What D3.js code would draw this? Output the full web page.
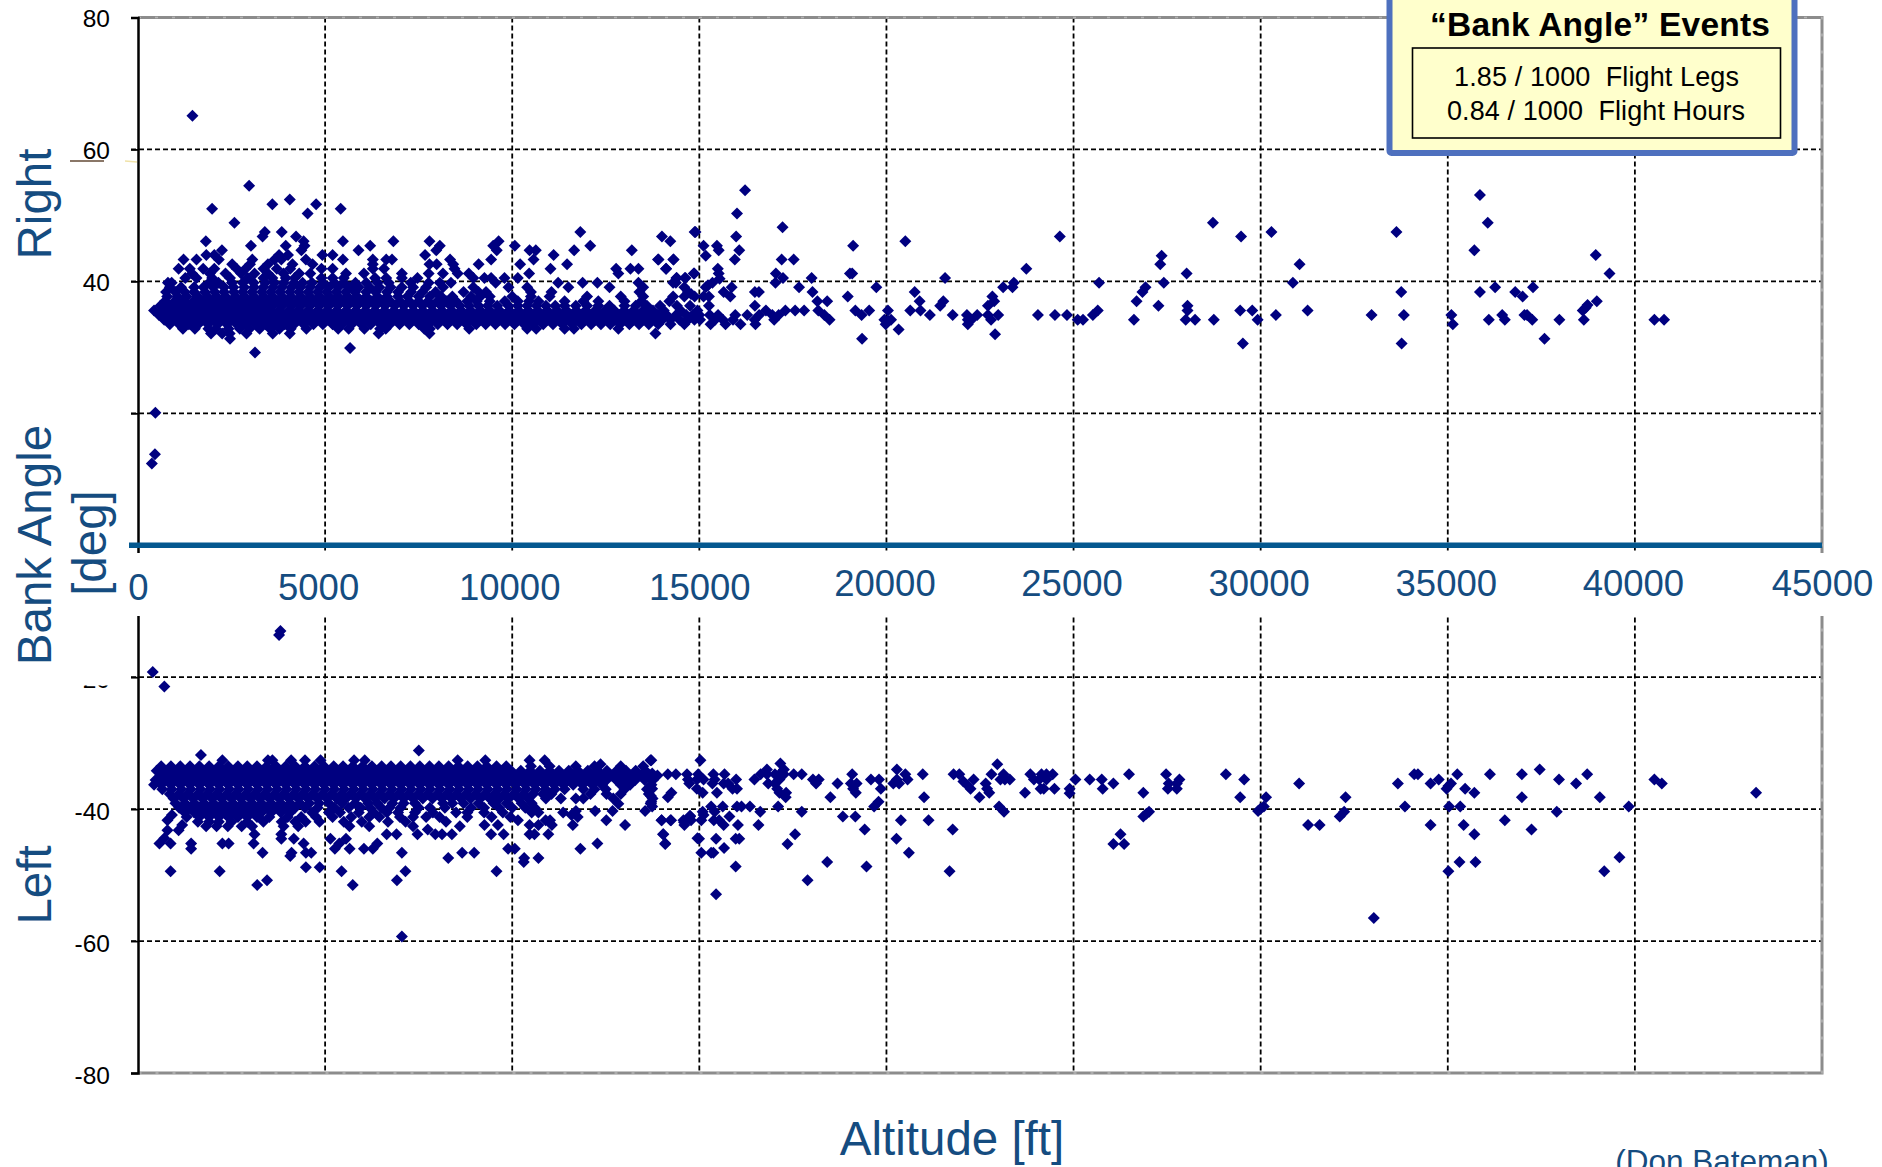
<!DOCTYPE html>
<html>
<head>
<meta charset="utf-8">
<title>Bank Angle Events</title>
<script src="https://cdnjs.cloudflare.com/ajax/libs/d3/7.8.5/d3.min.js"></script>
<style>
html, body { margin: 0; padding: 0; background: #fff; overflow: hidden; }
svg { display: block; }
text { font-family: "Liberation Sans", Arial, sans-serif; white-space: pre; }
</style>
</head>
<body>
<svg id="chart"></svg>
<script>
// Axis values
var altitudeTicks = [0, 5000, 10000, 15000, 20000, 25000, 30000, 35000, 40000, 45000];
var angleTicks = [80, 60, 40, 20, -20, -40, -60, -80];
var angleLabels = [80, 60, 40, -20, -40, -60, -80];

// Bank angle is recorded in steps, so the dense bands are kept per angle level: [angle, altitudes]
var rightLevels = [39.8, 39.1, 38.4, 37.7, 37.0, 36.3, 35.6, 34.9, 34.2, 33.5, 32.8, 32.1];
var rightLevelAltitudes = [
  [800, 900, 1900, 2150, 2510, 2800, 3090, 3400, 3650, 3900, 4170, 4400, 4650, 4940, 5250, 5500, 5810, 6100, 6400, 6700, 7289, 7767, 8065, 8363, 9556, 11226, 11882, 12276, 13373, 14300],
  [850, 1150, 1500, 1750, 2010, 2300, 2550, 2840, 3100, 3350, 3610, 3850, 4100, 4340, 4600, 4860, 5100, 5350, 5650, 5900, 6190, 6450, 6750, 7050, 7350, 7700, 8150, 8960, 9900, 10400, 11500, 12600, 13500, 14600],
  [750, 1000, 1250, 1500, 1790, 2050, 2300, 2560, 2800, 3050, 3310, 3550, 3800, 4060, 4300, 4550, 4800, 5040, 5300, 5550, 5800, 6100, 6350, 6650, 6950, 7300, 7600, 7950, 8700, 9100, 9300, 10500, 11050, 13400],
  [780, 1050, 1300, 1600, 1850, 2100, 2340, 2600, 2850, 3100, 3360, 3600, 3850, 4090, 4350, 4600, 4850, 5110, 5350, 5600, 5850, 6100, 6400, 6650, 6950, 7200, 7500, 7800, 8100, 8400, 8900, 9150, 9400, 10000, 10500, 11000, 12000, 12900, 13500, 14300, 14600],
  [720, 980, 1220, 1480, 1750, 2000, 2250, 2500, 2760, 3000, 3250, 3490, 3750, 4000, 4250, 4510, 4750, 5000, 5250, 5500, 5760, 6000, 6250, 6500, 6740, 7000, 7250, 7500, 7750, 8000, 8250, 8500, 8800, 9050, 9400, 9800, 10150, 10450, 10700, 11400, 11900, 12300, 13000, 13450, 14200],
  [600, 850, 1100, 1350, 1610, 1850, 2100, 2350, 2600, 2860, 3100, 3350, 3600, 3850, 4110, 4350, 4600, 4850, 5100, 5340, 5600, 5850, 6100, 6350, 6600, 6860, 7100, 7350, 7600, 7850, 8100, 8350, 8600, 8850, 9100, 9350, 9600, 9900, 10150, 10400, 10650, 10900, 11150, 11400, 11700, 12000, 12300, 12600, 13000, 13300, 13600, 13950, 14400, 14750],
  [430, 700, 950, 1210, 1460, 1720, 1980, 2230, 2490, 2750, 3000, 3260, 3510, 3770, 4030, 4280, 4540, 4800, 5050, 5310, 5560, 5820, 6080, 6330, 6590, 6840, 7100, 7360, 7610, 7870, 8120, 8380, 8640, 8890, 9150, 9400, 9660, 9920, 10170, 10430, 10680, 10940, 11200, 11450, 11710, 11960, 12220, 12480, 12730, 12990, 13240, 13500, 13760, 14050, 14500, 14950],
  [560, 830, 1080, 1340, 1590, 1850, 2110, 2360, 2620, 2870, 3130, 3390, 3640, 3900, 4150, 4410, 4670, 4920, 5180, 5430, 5690, 5950, 6200, 6460, 6710, 6970, 7230, 7480, 7740, 7990, 8250, 8510, 8760, 9020, 9270, 9530, 9790, 10040, 10300, 10550, 10810, 11070, 11320, 11580, 11830, 12090, 12350, 12600, 12860, 13110, 13370, 13630, 13880, 14130, 14380, 14650, 14820, 15000, 15280, 15500, 15960, 16280, 16600],
  [700, 950, 1210, 1470, 1720, 1980, 2230, 2490, 2750, 3000, 3260, 3510, 3770, 4030, 4280, 4540, 4790, 5050, 5310, 5560, 5820, 6070, 6330, 6590, 6840, 7100, 7350, 7610, 7870, 8120, 8380, 8630, 8890, 9150, 9400, 9660, 9910, 10170, 10430, 10680, 10940, 11190, 11450, 11710, 11960, 12220, 12470, 12730, 12990, 13240, 13500, 13750, 14010, 14230, 14470, 14700, 14870, 15020, 15420, 15630, 15900, 16480, 17000],
  [850, 1100, 1360, 1610, 1870, 2130, 2380, 2640, 2890, 3150, 3410, 3660, 3920, 4170, 4430, 4690, 4940, 5200, 5450, 5710, 5970, 6220, 6480, 6730, 6990, 7250, 7500, 7760, 8010, 8270, 8530, 8780, 9040, 9290, 9550, 9810, 10060, 10320, 10570, 10830, 11090, 11340, 11600, 11850, 12110, 12370, 12620, 12880, 13130, 13390, 13650, 13900, 14230, 14600, 15300, 15700, 16100, 16500],
  [1200, 1520, 1880, 2080, 2420, 2720, 2980, 3250, 3530, 3780, 4080, 4500, 5350, 5630, 6050, 6470, 6620, 7650, 7800, 8850, 10400, 10640, 11400, 11650, 12836],
  [1950, 2250, 2450, 2900, 3600, 4056, 6430, 7790, 13827]
];

// Single points above the bands, top half of the chart
var rightAltitude = [1455, 2970, 3590, 4056, 4760, 4533, 5416, 1980, 2577, 3388, 3328, 3841, 4223, 1813, 3018, 4426, 5476, 6824, 7790, 9636, 9491, 9587, 10069, 11820, 12085, 14000, 14224, 14874,
  3949, 4450, 6204, 8065, 2243, 4366, 5893, 7970, 10463, 10630, 11655, 13195, 1825, 2040, 3770, 4008, 4927, 5200, 7671, 11106, 1217, 1563, 2159, 3054, 3650, 3830, 4486, 5476, 6275, 6633, 6788, 8339, 9437, 10570, 13910, 14304,
  2517, 2994, 3472, 4128, 4665, 6275, 7790, 7981, 8423, 9103, 10212, 11465, 1086, 1384, 1742, 2040, 2637, 2875, 3352, 3710, 4068, 4903, 5201, 6275, 6573, 8458, 11023, 12777, 13159, 13373, 14113,
  1444, 1921, 2338, 2756, 3114, 3472, 3889, 4307, 4605, 5559, 6037, 7051, 7767, 8148, 8542, 8840, 10451, 12836, 14866, 1265, 1563, 1980, 2458, 2935, 3352, 3591, 3949, 4187, 4903, 5201, 5500, 6335, 6633, 7051, 7468, 8960, 9258, 9437, 9794, 10150, 14388, 14630,
  2458, 5667, 3126, 465, 453, 370];
var rightAngle = [65.1, 54.5, 51.7, 52.4, 51.7, 50.3, 51.0, 51.0, 48.9, 47.5, 46.8, 47.5, 46.8, 46.1, 45.4, 46.1, 46.1, 46.1, 46.1, 46.1, 45.4, 44.7, 45.4, 47.5, 45.4, 46.8, 46.1, 47.5,
  45.4, 45.4, 45.4, 45.4, 44.7, 44.7, 44.7, 44.7, 44.7, 44.7, 44.7, 44.7, 44.0, 44.0, 44.0, 44.0, 44.0, 44.0, 44.0, 44.0, 43.3, 43.3, 43.3, 43.3, 43.3, 43.3, 43.3, 43.3, 43.3, 43.3, 43.3, 43.3, 43.3, 43.3, 43.3, 43.3,
  42.6, 42.6, 42.6, 42.6, 42.6, 42.6, 42.6, 42.6, 42.6, 42.6, 42.6, 42.6, 41.9, 41.9, 41.9, 41.9, 41.9, 41.9, 41.9, 41.9, 41.9, 41.9, 41.9, 41.9, 41.9, 41.9, 41.9, 41.9, 41.9, 41.9, 41.9,
  41.2, 41.2, 41.2, 41.2, 41.2, 41.2, 41.2, 41.2, 41.2, 41.2, 41.2, 41.2, 41.2, 41.2, 41.2, 41.2, 41.2, 41.2, 41.2, 40.5, 40.5, 40.5, 40.5, 40.5, 40.5, 40.5, 40.5, 40.5, 40.5, 40.5, 40.5, 40.5, 40.5, 40.5, 40.5, 40.5, 40.5, 40.5, 40.5, 40.5, 40.5, 40.5,
  31.3, 29.9, 29.2, 20.1, 13.8, 12.4];

// Points read from the right part of the top half, above 15000 ft
var rightHighAltitude = [16222, 16007, 14898, 15113, 15172, 15470, 15518, 15983, 16067, 15948, 17224, 17200, 17522, 13896, 14313, 14110, 15494, 15518, 15542, 14850, 14397, 14612, 14373, 15351, 15232, 15172, 14695, 14779, 14874, 15113, 15256, 15650, 15864, 15828, 15256, 16485, 16592, 16485, 17045, 17236, 17033, 18000, 17665, 18024, 18155, 18417, 19109, 19025, 19085, 18966, 19169, 19336, 19539, 19729, 19348, 20040, 19944, 20123, 19980, 20040, 20326, 20505, 20636, 20910, 20887, 20755, 21161, 21567, 21519, 21436, 21770, 22151, 22175, 22175, 22270, 22425, 22712, 22712, 22831, 22879, 22795, 22986, 22903, 23118, 23368, 23404, 23738, 24048, 24502, 24633, 24824, 25110, 25253, 25516, 25647, 25682, 26613, 26684, 26840, 26923, 27269, 27353, 27317, 27412, 28021, 28045, 28045, 27997, 28247, 28748, 28724, 29476, 29452, 29775, 29918, 29524, 30288, 30407, 30860, 31039, 31254,
  32963, 33628, 33757, 33826, 33767, 35096, 35135, 35859, 36068, 35710, 35859, 36266, 36801, 37000, 37277, 36097, 36454, 36524, 37049, 37119, 37258, 37585, 37982, 38636, 38606, 38686, 38736, 38983, 38954, 39321, 40521, 40779,
  17300, 17560, 17800, 18180, 18340, 18480, 16780, 16950, 17120];
var rightHighAngle = [53.8, 50.3, 47.5, 45.4, 43.9, 45.4, 44.7, 46.8, 44.7, 43.3, 48.2, 43.3, 43.3, 43.3, 43.3, 41.9, 41.9, 41.2, 40.4, 41.2, 40.5, 40.5, 39.8, 39.8, 39.4, 39.1, 38.4, 38.1, 37.7, 37.7, 37.7, 38.4, 39.1, 37.7, 36.3, 38.4, 38.4, 36.3, 41.2, 40.5, 39.8, 40.5, 39.1, 38.4, 37.0, 37.0, 45.4, 41.2, 41.2, 37.7, 35.6, 34.9, 35.6, 39.1, 31.3, 35.6, 34.2, 34.2, 33.5, 34.0, 32.7, 46.1, 35.6, 35.6, 37.0, 38.4, 34.9, 40.5, 37.0, 36.3, 34.9, 34.9, 34.2, 33.5, 34.2, 34.9, 34.9, 36.3, 37.7, 37.0, 34.2, 34.9, 32.0, 39.1, 39.1, 39.8, 41.9, 34.9, 34.9, 46.8, 34.9, 34.2, 34.2, 34.9, 35.6, 39.8, 34.2, 37.0, 38.4, 39.1, 36.3, 43.9, 42.6, 39.8, 41.2, 36.3, 35.6, 34.2, 34.2, 34.2, 48.9, 46.8, 35.6, 35.6, 34.2, 30.6, 47.5, 34.9, 39.8, 42.6, 35.6,
  34.9, 47.5, 38.4, 34.9, 30.6, 34.9, 33.5, 53.1, 48.9, 44.7, 38.4, 39.1, 38.4, 37.7, 39.1, 34.2, 34.9, 34.2, 34.9, 34.9, 34.2, 31.3, 34.2, 34.2, 35.6, 36.0, 36.4, 37.0, 44.0, 41.2, 34.2, 34.2,
  35.6, 35.6, 35.6, 35.6, 34.9, 34.2, 35.6, 34.9, 34.9];

// Bottom half, dense band by level
var leftLevels = [-33.5, -34.2, -34.9, -35.6, -36.3, -37.0, -37.7, -38.4, -39.1, -39.8, -40.5, -41.2, -41.9, -42.6];
var leftLevelAltitudes = [
  [620, 880, 1130, 1390, 1640, 1900, 2160, 2410, 2670, 2920, 3180, 3440, 3690, 3950, 4200, 4460, 4720, 4970, 5230, 5480, 5740, 6000, 6250, 6510, 6760, 7020, 7280, 7530, 7790, 8040, 8300, 8560, 8810, 9070, 9320, 9580, 9840, 10500, 11000, 11700, 12200, 12900, 13500],
  [500, 760, 1010, 1270, 1520, 1780, 2040, 2290, 2550, 2800, 3060, 3320, 3570, 3830, 4080, 4340, 4600, 4850, 5110, 5360, 5620, 5880, 6130, 6390, 6640, 6900, 7160, 7410, 7670, 7920, 8180, 8440, 8690, 8950, 9200, 9460, 9720, 9970, 10230, 10480, 10740, 11000, 11250, 11510, 11760, 12020, 12280, 12530, 12790, 13040, 13300, 13560],
  [620, 880, 1130, 1390, 1640, 1900, 2160, 2410, 2670, 2920, 3180, 3440, 3690, 3950, 4200, 4460, 4720, 4970, 5230, 5480, 5740, 6000, 6250, 6510, 6760, 7020, 7280, 7530, 7790, 8040, 8300, 8560, 8810, 9070, 9320, 9580, 9840, 10090, 10350, 10600, 10860, 11120, 11370, 11630, 11880, 12140, 12400, 12650, 12910, 13160, 13420, 13680, 13880],
  [470, 740, 1000, 1260, 1510, 1770, 2020, 2280, 2540, 2790, 3050, 3300, 3560, 3820, 4070, 4330, 4580, 4840, 5100, 5350, 5610, 5860, 6120, 6380, 6630, 6890, 7140, 7400, 7660, 7910, 8170, 8420, 8680, 8940, 9190, 9450, 9700, 9960, 10220, 10470, 10730, 10980, 11240, 11500, 11750, 12010, 12260, 12520, 12780, 13030, 13290, 13540, 13760],
  [430, 620, 880, 1130, 1390, 1640, 1900, 2160, 2410, 2670, 2920, 3180, 3440, 3690, 3950, 4200, 4460, 4720, 4970, 5230, 5480, 5740, 6000, 6250, 6510, 6760, 7020, 7280, 7530, 7790, 8040, 8300, 8560, 8810, 9070, 9320, 9580, 9840, 10090, 10350, 10600, 10860, 11120, 11370, 11630, 11880, 12140, 12400, 12900, 13150, 13720],
  [650, 900, 1160, 1410, 1670, 1930, 2180, 2440, 2690, 2950, 3210, 3460, 3720, 3970, 4230, 4490, 4740, 5000, 5250, 5510, 5770, 6020, 6280, 6530, 6790, 7050, 7300, 7560, 7810, 8070, 8330, 8580, 8840, 9090, 9350, 9610, 9860, 10120, 10370, 10630, 10890, 11140, 11400, 11900, 12200, 12500, 13000, 13600],
  [850, 1090, 1340, 1600, 1850, 2110, 2370, 2620, 2880, 3130, 3390, 3650, 3900, 4160, 4410, 4670, 4930, 5180, 5440, 5690, 5950, 6210, 6460, 6720, 6970, 7230, 7490, 7740, 8000, 8250, 8510, 8770, 9020, 9280, 9530, 9790, 10050, 10300, 10560, 10820, 11050, 12090, 12520, 12900, 13650],
  [950, 1210, 1470, 1720, 1980, 2230, 2490, 2750, 3000, 3260, 3510, 3770, 4030, 4280, 4540, 4790, 5050, 5310, 5560, 5820, 6070, 6330, 6590, 6840, 7100, 7350, 7610, 7870, 8120, 8380, 8630, 8890, 9150, 9400, 9660, 9910, 10170, 10430, 10900, 11300, 11700, 11900, 12700, 13750],
  [1000, 1260, 1510, 1770, 2020, 2280, 2540, 2790, 3050, 3300, 3560, 3820, 4070, 4330, 4580, 4840, 5100, 5450, 5800, 6150, 6400, 6800, 7100, 7400, 8150, 8400, 8700, 9100, 9500, 9850, 10250, 10520, 13700],
  [1100, 1380, 1640, 1900, 2160, 2410, 2670, 2920, 3180, 3440, 3690, 3950, 4200, 4460, 4800, 5250, 5630, 5950, 6200, 6500, 6720, 7020, 7500, 7800, 8200, 8900, 9250, 9650, 10000, 10350, 10600],
  [1250, 1500, 1770, 2020, 2280, 2540, 2790, 3050, 3300, 3560, 3820, 4070, 4650, 5100, 5400, 5900, 6300, 6650, 6950, 7400, 7880, 8500, 8800, 9250, 9750, 10520, 10700, 11360],
  [1300, 1640, 1900, 2160, 2410, 2670, 2920, 3180, 3510, 4000, 4360, 4760, 5200, 5700, 6180, 6450, 7000, 7350, 7700, 8060, 8800, 9450, 9950, 11750],
  [1600, 1900, 2160, 2500, 2920, 3350, 3840, 4200, 4480, 4850, 5500, 5980, 6680, 7150, 8230],
  [1820, 2100, 2400, 2770, 3050, 3890, 4280, 5650, 6180, 7350, 8600]
];

// Single points outside the band, bottom half
var leftAltitude = [3806, 3770, 394, 704, 7504, 1682, 3472, 3591, 4092, 4462, 4879, 5774, 6060, 8542, 9281, 10463, 10868, 13695, 2255, 12360,
  871, 2183, 3185, 3448, 573, 704, 871, 1420, 1420, 787, 1086, 1181, 787, 907, 2255, 2422, 3114, 3090, 3328, 3830, 3830, 4164, 4068, 4104, 4426, 4486, 4629, 4486, 4855, 5142, 5380, 5261, 5440, 5738, 5655, 5559, 6037, 6395, 6275,
  6645, 6907, 7051, 7146, 6919, 7051, 7468, 7743, 7945, 8124, 8387, 8291, 8661, 8983, 9580, 9890, 10069, 10320, 10308, 10701, 11822, 12276, 9771, 9437, 9258, 9616, 10463, 10594, 10463, 10701, 10964, 11059, 10892, 11620, 10153, 11011, 12515, 13015, 11703, 11584, 12216, 12681, 12836, 13552, 13707, 13707, 13993, 14244, 14030, 14089, 14590, 14750, 14950];
var leftAngle = [-13.0, -13.6, -19.2, -21.4, -31.1, -31.8, -32.6, -32.6, -32.6, -32.6, -32.6, -32.6, -32.6, -32.6, -32.6, -32.6, -32.6, -32.6, -32.6, -33.2,
  -49.4, -49.4, -51.5, -50.8, -45.2, -44.4, -45.2, -45.2, -46.0, -43.2, -43.2, -42.4, -41.7, -40.9, -45.2, -45.2, -43.8, -45.2, -46.6, -43.8, -44.5, -44.5, -47.1, -46.6, -45.2, -46.6, -46.6, -48.8, -48.8, -44.5, -45.2, -46.0, -49.4, -51.5, -46.0, -44.5, -46.0, -45.2, -46.0,
  -43.8, -43.8, -46.6, -49.4, -50.8, -59.3, -43.8, -43.1, -43.8, -43.8, -43.8, -47.4, -46.6, -46.6, -49.4, -46.0, -46.0, -47.4, -48.0, -47.4, -46.0, -45.2, -43.8, -43.8, -42.4, -42.4, -43.8, -43.8, -42.4, -42.4, -43.8, -42.4, -41.7, -42.4, -41.7, -41.7, -41.7, -42.4, -40.3, -40.9, -40.3, -40.3, -39.2, -40.3, -39.2, -38.0, -41.7, -41.7, -43.8, -45.2, -42.0, -41.0, -44.4];

// Points read from the right part of the bottom half
var leftHighAltitude = [15029, 13717, 14158, 14373, 14671, 14969, 15375, 15673, 14695, 14934, 15113, 15411, 15983, 14731, 14934, 15089, 15470, 15351, 15650, 15769, 15888, 16007, 13741, 13741, 13741, 14254, 14158, 13717, 13741, 15315, 15626, 16007, 16127, 16353, 15089, 15411, 15113, 15805, 13991, 14230, 14576, 14755, 14600, 14779, 15053, 15387, 15530, 15650, 16031, 14039, 14087, 14993, 15447, 15972, 16067, 15661, 15053, 15315, 15375, 15972, 15447,
  16473, 16640, 16807, 16807, 17021, 17165, 17260, 17141, 17260, 16842, 17021, 17141, 17522, 17737, 17081, 17320, 17141, 17308, 17105, 16628, 16580, 18036, 18191, 18119, 17737, 17558, 17356, 18692, 18501, 18835, 19169, 19419, 18417, 17892, 19467, 19085, 19204, 19050, 19109, 19181, 19586, 19801, 19849, 19789, 19670, 20278, 20183, 20278, 20338, 20505, 20565, 20970, 21006, 20386, 21125, 20267, 20600, 21793, 21948, 22056, 22175, 22247, 22330, 21770, 21686, 22485, 22652, 22688, 22748, 22807, 22962, 23046, 23129, 23165, 23297, 23010, 23141, 23702, 23845, 23941, 24084, 24144, 24275, 24442, 24275, 24120, 24203, 24490, 24895, 24895, 25050, 25432, 25754, 25778, 26064, 26482, 26864, 27018, 26947, 26864, 26255, 26064, 26351, 27472, 27544, 27520, 27759, 27830, 27759, 29071, 29560, 29452, 30145, 30085, 30001, 29930, 31027, 32268, 32232, 32113, 31266, 31576,
  33023, 33667, 33856, 34104, 34203, 34540, 34758, 34540, 34967, 35016, 35086, 35254, 35463, 35710, 35036, 35334, 35423, 35710, 35016, 35314, 35740, 36127, 36524, 36980, 36980, 37238, 37456, 37912, 37972, 38428, 38725, 39063, 39182, 39588, 39836, 40521, 40719, 43238];
var leftHighAngle = [-32.6, -32.6, -34.7, -34.7, -34.7, -34.7, -34.7, -34.7, -35.5, -35.5, -35.5, -35.5, -35.5, -36.1, -36.9, -37.5, -37.5, -36.1, -36.1, -36.1, -36.9, -36.9, -34.6, -35.6, -36.9, -37.5, -38.2, -38.9, -39.6, -39.6, -39.6, -39.6, -39.6, -39.6, -40.4, -40.4, -40.9, -41.1, -41.7, -41.7, -41.7, -41.1, -42.4, -41.7, -41.7, -41.7, -41.7, -42.4, -42.4, -43.8, -45.3, -44.5, -44.5, -44.5, -44.5, -45.9, -46.6, -46.6, -46.6, -48.7, -52.9,
  -35.5, -34.7, -34.0, -34.7, -34.7, -33.1, -34.0, -34.7, -34.7, -36.1, -36.1, -35.5, -34.7, -34.7, -36.9, -37.5, -37.5, -38.2, -39.6, -40.4, -42.4, -35.5, -35.5, -36.1, -40.4, -43.8, -45.3, -36.1, -38.2, -41.1, -41.1, -43.1, -48.0, -50.8, -48.7, -34.7, -36.1, -36.1, -36.9, -37.5, -35.5, -35.5, -36.9, -38.9, -39.6, -34.0, -36.1, -35.5, -36.1, -34.7, -35.5, -34.7, -38.2, -41.7, -41.7, -44.5, -46.6, -34.7, -34.7, -35.8, -36.4, -36.9, -35.5, -43.1, -49.4, -38.2, -36.1, -36.9, -37.5, -34.7, -33.2, -35.5, -34.7, -35.5, -35.5, -39.6, -40.4, -37.5, -34.7, -35.5, -35.5, -34.7, -34.7, -34.7, -35.5, -36.9, -36.9, -36.9, -36.9, -37.6, -35.5, -35.5, -35.5, -36.9, -36.1, -34.7, -37.5, -40.4, -40.7, -41.1, -43.8, -45.3, -45.3, -34.7, -36.1, -36.9, -36.9, -35.5, -36.1, -34.7, -35.5, -38.2, -38.2, -39.6, -39.9, -40.3, -36.1, -38.2, -40.4, -41.1, -42.4, -42.4,
  -56.5, -36.1, -39.6, -34.7, -34.7, -36.1, -35.5, -42.4, -36.9, -36.5, -36.1, -34.7, -36.9, -37.5, -39.6, -39.6, -42.4, -43.8, -49.4, -48.0, -48.0, -34.7, -41.7, -34.7, -38.2, -43.1, -34.0, -40.4, -35.5, -36.1, -34.7, -38.2, -49.4, -47.3, -39.6, -35.5, -36.1, -37.5];

// Put the level rows and the single points into one list of points
function collectPoints(levels, levelAltitudes, singles) {
    var points = [];
    levels.forEach(function(angle, i) {
        levelAltitudes[i].forEach(function(altitude) {
            points.push({ altitude: altitude, angle: angle });
        });
    });
    singles.forEach(function(pair) {
        pair[0].forEach(function(altitude, i) {
            points.push({ altitude: altitude, angle: pair[1][i] });
        });
    });
    return points;
}

var points = collectPoints(rightLevels, rightLevelAltitudes, [[rightAltitude, rightAngle], [rightHighAltitude, rightHighAngle]])
    .concat(collectPoints(leftLevels, leftLevelAltitudes, [[leftAltitude, leftAngle], [leftHighAltitude, leftHighAngle]]));

// Chart area
var width = 1882, height = 1167;
var plot = { left: 138, right: 1822, top: 17.5, bottom: 1073 };
var titleColour = "#154c80";
var frameColour = "#8c8c8c";

var svg = d3.select("#chart").attr("width", width).attr("height", height);

var x = d3.scaleLinear().domain([0, 45000]).range([plot.left, plot.right]);
var y = d3.scaleLinear().domain([80, -80]).range([plot.top, plot.bottom]);

// Grid lines, vertical and horizontal
var grid = svg.append("g").attr("id", "grid");
grid.selectAll(".v-grid")
    .data(altitudeTicks.slice(1, -1))
  .enter().append("line")
    .attr("class", "v-grid")
    .attr("x1", function(d) { return x(d); })
    .attr("x2", function(d) { return x(d); })
    .attr("y1", plot.top)
    .attr("y2", plot.bottom)
    .attr("stroke", "#000")
    .attr("stroke-width", 1.8)
    .attr("stroke-dasharray", "5,3");
grid.selectAll(".h-grid")
    .data(angleTicks.slice(1, -1))
  .enter().append("line")
    .attr("class", "h-grid")
    .attr("x1", plot.left - 7)
    .attr("x2", plot.right)
    .attr("y1", function(d) { return y(d); })
    .attr("y2", function(d) { return y(d); })
    .attr("stroke", "#000")
    .attr("stroke-width", 1.8)
    .attr("stroke-dasharray", "5,3");

// Frame on top, right and bottom
var frame = d3.path();
frame.moveTo(plot.left, plot.top);
frame.lineTo(plot.right, plot.top);
frame.lineTo(plot.right, plot.bottom);
frame.lineTo(plot.left, plot.bottom);
svg.append("path").attr("d", frame.toString())
    .attr("fill", "none").attr("stroke", frameColour).attr("stroke-width", 3);
svg.append("path").attr("d", frame.toString())
    .attr("fill", "none").attr("stroke", "#b4b4b4").attr("stroke-width", 1.5).attr("stroke-dasharray", "3,14");

// Left axis with its ticks and labels
var yAxis = d3.axisLeft(y)
    .tickValues(angleTicks)
    .tickSize(7)
    .tickFormat(function(d) { return angleLabels.indexOf(d) >= 0 ? d : ""; });
var yAxisGroup = svg.append("g")
    .attr("id", "y-axis")
    .attr("transform", "translate(" + plot.left + ",0)")
    .call(yAxis);
yAxisGroup.select(".domain").attr("stroke", "#000").attr("stroke-width", 2.5);
yAxisGroup.selectAll(".tick line").attr("stroke", "#000").attr("stroke-width", 1.8);
yAxisGroup.selectAll(".tick text")
    .attr("font-size", 24.5)
    .attr("font-family", "Liberation Sans")
    .attr("fill", "#000")
    .attr("x", -28)
    .attr("dy", null)
    .attr("y", function(d) { return d > 0 ? 9 : 10.5; });

// Only the bottom of the -20 label is left visible in the picture
var hiddenTick = yAxisGroup.selectAll(".tick").filter(function(d) { return d === -20; });
hiddenTick.append("clipPath").attr("id", "label-clip")
  .append("rect").attr("x", -130).attr("y", 685 - y(-20)).attr("width", 130).attr("height", 10);
hiddenTick.select("text").attr("clip-path", "url(#label-clip)");

// Data points, one rotated square per event
var diamond = d3.symbol().type(d3.symbolSquare).size(72);
svg.append("g").attr("id", "points")
  .selectAll("path")
    .data(points)
  .enter().append("path")
    .attr("d", diamond)
    .attr("fill", "#000080")
    .attr("transform", function(d) {
        return "translate(" + x(d.altitude) + "," + y(d.angle) + ") rotate(45)";
    });

// White strip that holds the altitude labels, it cuts the grid
svg.append("rect")
    .attr("x", 100)
    .attr("y", 553)
    .attr("width", width - 100)
    .attr("height", 63)
    .attr("fill", "#fff");

// Zero line and the altitude axis labels
svg.append("line")
    .attr("x1", plot.left - 9)
    .attr("x2", plot.right)
    .attr("y1", y(0))
    .attr("y2", y(0))
    .attr("stroke", "#04588f")
    .attr("stroke-width", 5.5);

function labelShiftX(d) { return d === 5000 ? -7 : d === 10000 ? -3 : d >= 20000 && d < 45000 ? -2 : 0; }
function labelBaseline(d) { return d >= 20000 ? 596 : 600; }

var xAxis = d3.axisBottom(x).tickValues(altitudeTicks).tickSize(0).tickFormat(d3.format("d"));
var xAxisGroup = svg.append("g")
    .attr("id", "x-axis")
    .call(xAxis);
xAxisGroup.select(".domain").remove();
xAxisGroup.selectAll(".tick text")
    .attr("font-size", 36.5)
    .attr("font-family", "Liberation Sans")
    .attr("fill", titleColour)
    .attr("dy", null)
    .attr("text-anchor", "middle")
    .attr("x", labelShiftX)
    .attr("y", labelBaseline);

// Axis titles
function rotatedTitle(text, baseline, middle) {
    svg.append("text")
        .attr("transform", "translate(" + baseline + "," + middle + ") rotate(-90)")
        .attr("text-anchor", "middle")
        .attr("font-size", 47.5)
        .attr("fill", titleColour)
        .text(text);
}
rotatedTitle("Right", 51, 204);
rotatedTitle("Bank Angle", 51, 545);
rotatedTitle("[deg]", 106, 543);
rotatedTitle("Left", 51, 885);

svg.append("text")
    .attr("x", 952)
    .attr("y", 1155)
    .attr("text-anchor", "middle")
    .attr("font-size", 47.5)
    .attr("fill", titleColour)
    .text("Altitude [ft]");

svg.append("text")
    .attr("x", 1722)
    .attr("y", 1172)
    .attr("text-anchor", "middle")
    .attr("font-size", 31.5)
    .attr("fill", titleColour)
    .text("(Don Bateman)");

// Small left-over mark next to the 60 label
svg.append("line")
    .attr("x1", 70).attr("x2", 104).attr("y1", 161).attr("y2", 161)
    .attr("stroke", "#8a7768").attr("stroke-width", 2);
svg.append("line")
    .attr("x1", 125).attr("x2", 137).attr("y1", 161).attr("y2", 162)
    .attr("stroke", "#f0e2a8").attr("stroke-width", 1.5);

// Note box, its top edge runs off the page
var note = svg.append("g").attr("id", "note");
note.append("rect")
    .attr("x", 1389.5).attr("y", -20)
    .attr("width", 405).attr("height", 173)
    .attr("rx", 2)
    .attr("fill", "#ffffcc")
    .attr("stroke", "#4e70be")
    .attr("stroke-width", 6);
note.append("rect")
    .attr("x", 1412.5).attr("y", 48)
    .attr("width", 368).attr("height", 90)
    .attr("fill", "none")
    .attr("stroke", "#000")
    .attr("stroke-width", 1.6);
note.append("text")
    .attr("x", 1430).attr("y", 36)
    .attr("font-size", 33.5)
    .attr("font-weight", "bold")
    .attr("textLength", 340)
    .attr("fill", "#000")
    .text("“Bank Angle” Events");
note.append("text")
    .attr("x", 1454).attr("y", 86)
    .attr("font-size", 27)
    .attr("textLength", 285)
    .attr("fill", "#000")
    .text("1.85 / 1000  Flight Legs");
note.append("text")
    .attr("x", 1447).attr("y", 120)
    .attr("font-size", 27)
    .attr("textLength", 298)
    .attr("fill", "#000")
    .text("0.84 / 1000  Flight Hours");
</script>
</body>
</html>
